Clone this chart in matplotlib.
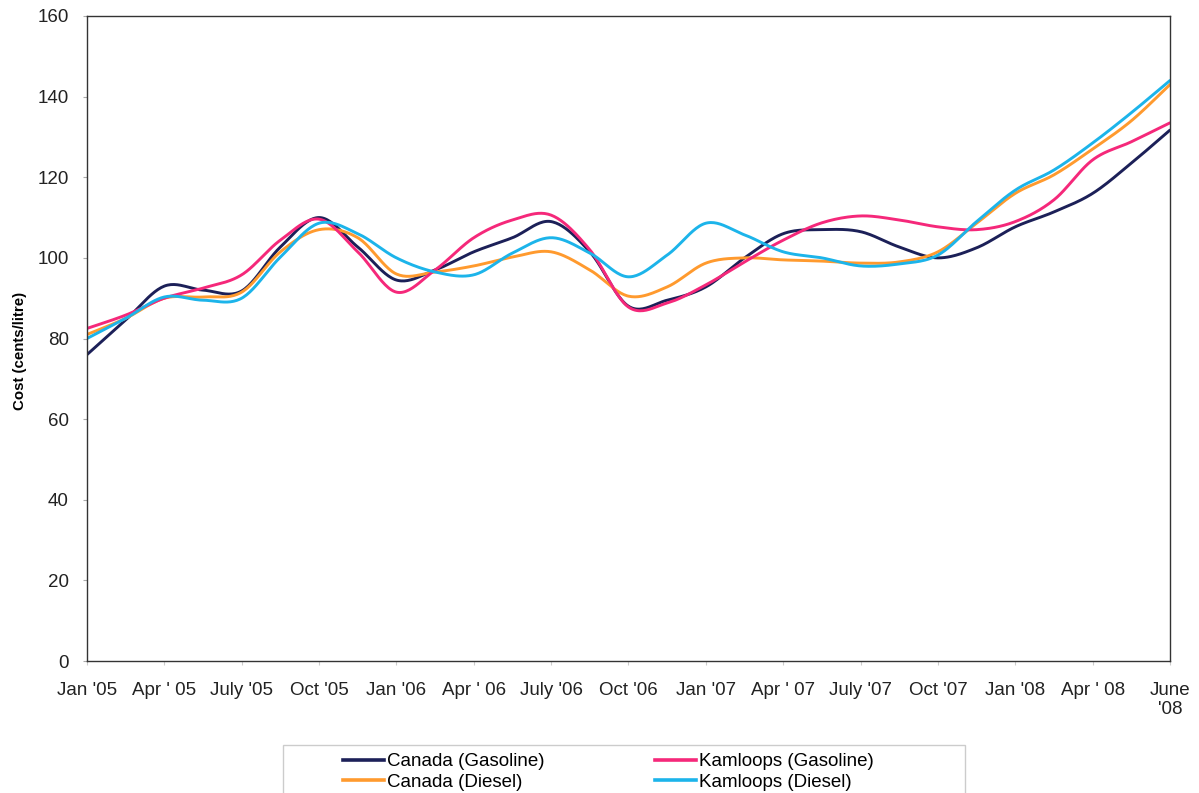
import numpy as np
import matplotlib
matplotlib.use("Agg")
import matplotlib.pyplot as plt
from matplotlib.patches import Rectangle
from matplotlib.lines import Line2D

plt.rcParams['font.family'] = ['Liberation Sans', 'DejaVu Sans']

# Quarter labels along the x axis
tick_labels = ["Jan '05", "Apr ' 05", "July '05", "Oct '05", "Jan '06", "Apr ' 06",
               "July '06", "Oct '06", "Jan '07", "Apr ' 07", "July '07", "Oct '07",
               "Jan '08", "Apr ' 08", "June\n'08"]

# Prices (cents/litre), sampled every half quarter from Jan '05 to June '08
canada_gasoline = [76, 84.6, 93, 92, 91.8, 102.7, 110, 102.7, 94.5, 97, 101.5, 105, 109,
                   101.5, 88, 89.5, 92.8, 100, 106, 107, 106.5, 102.7, 100, 102.5, 107.7,
                   111.4, 116, 123.5, 131.7]
kamloops_gasoline = [82.5, 85.8, 90, 92.5, 95.8, 104.4, 109.6, 101.5, 91.5, 97, 105, 109.4,
                     110.6, 102, 87.8, 88.8, 93.3, 99, 104.4, 108.7, 110.4, 109.4, 107.7,
                     107, 109, 114.4, 124.3, 128.8, 133.5]
canada_diesel = [81, 85, 90, 90.3, 91.5, 101.5, 107, 105, 96, 96.5, 98, 100.2, 101.5, 97,
                 90.5, 92.8, 98.7, 100, 99.5, 99.2, 98.7, 99, 101.5, 108.6, 116, 120.6,
                 127, 134, 143]
kamloops_diesel = [80, 85, 90.3, 89.5, 90, 100.2, 108.6, 106, 100, 96.5, 95.8, 101.2, 105,
                   101.2, 95.3, 100.7, 108.6, 105.7, 101.5, 100, 98, 98.5, 100.7, 109,
                   116.8, 121.8, 128.5, 136, 144]

series = [
    ("Canada (Gasoline)", canada_gasoline, "#1c2058"),
    ("Canada (Diesel)", canada_diesel, "#ff9a2e"),
    ("Kamloops (Gasoline)", kamloops_gasoline, "#f5287a"),
    ("Kamloops (Diesel)", kamloops_diesel, "#1cb4ea"),
]


def smooth(x, y, n=24):
    """Cubic Bezier smoothing through every point (spreadsheet-style smoothed line)."""
    x = np.asarray(x, float)
    y = np.asarray(y, float)
    px = np.concatenate([[x[0]], x, [x[-1]]])
    py = np.concatenate([[y[0]], y, [y[-1]]])
    xs, ys = [], []
    t = np.linspace(0, 1, n, endpoint=False)
    for i in range(len(x) - 1):
        p0 = np.array([px[i + 1], py[i + 1]])
        p3 = np.array([px[i + 2], py[i + 2]])
        c1 = p0 + (p3 - np.array([px[i], py[i]])) / 6
        c2 = p3 - (np.array([px[i + 3], py[i + 3]]) - p0) / 6
        b = ((1 - t) ** 3)[:, None] * p0 + (3 * (1 - t) ** 2 * t)[:, None] * c1 \
            + (3 * (1 - t) * t ** 2)[:, None] * c2 + (t ** 3)[:, None] * p3
        xs.append(b[:, 0])
        ys.append(b[:, 1])
    xs.append([x[-1]])
    ys.append([y[-1]])
    return np.concatenate(xs), np.concatenate(ys)


W, H = 1199, 793
fig = plt.figure(figsize=(W / 100, H / 100), dpi=100)
ax = fig.add_axes([87 / W, 1 - 661 / H, (1170 - 87) / W, (661 - 16) / H])

xpos = np.arange(len(canada_gasoline)) / 2.0
handles = {}
for name, vals, col in series:
    sx, sy = smooth(xpos, vals)
    ax.plot(sx, sy, color=col, lw=2.1, solid_capstyle='round')
    handles[name] = Line2D([], [], color=col, lw=2.6, label=name)

ax.set_xlim(0, len(tick_labels) - 1)
ax.set_ylim(0, 160)
ax.set_yticks(np.arange(0, 161, 20))
ax.set_xticks(np.arange(len(tick_labels)))
ax.set_xticklabels(tick_labels, fontsize=13.5, color='#222222', linespacing=1.15, va='top')
ax.tick_params(axis='y', labelsize=13.5, labelcolor='#222222', length=3, color='#aaaaaa', pad=10)
ax.tick_params(axis='x', length=3, color='#cccccc', pad=12)
for s in ax.spines.values():
    s.set_color('#333333')
    s.set_linewidth(1.0)
ax.set_ylabel("Cost (cents/litre)", fontsize=10.8, fontweight='bold')
ax.yaxis.set_label_coords(-0.055, 0.48)

# Legend box
fig.patches.append(Rectangle((283 / W, -0.02), (965 - 283) / W, 0.02 + (H - 745) / H,
                             transform=fig.transFigure, fill=False, edgecolor='#cccccc', lw=1.0))
leg_kw = dict(ncol=1, frameon=False, fontsize=13.5, loc='upper left',
              handlelength=2.2, handletextpad=0.15, labelspacing=0.2,
              borderaxespad=0, borderpad=0)
fig.legend(handles=[handles["Canada (Gasoline)"], handles["Canada (Diesel)"]],
           bbox_to_anchor=(343 / W, 1 - 753 / H), **leg_kw)
fig.legend(handles=[handles["Kamloops (Gasoline)"], handles["Kamloops (Diesel)"]],
           bbox_to_anchor=(655 / W, 1 - 753 / H), **leg_kw)

fig.savefig("out.png", dpi=100)
